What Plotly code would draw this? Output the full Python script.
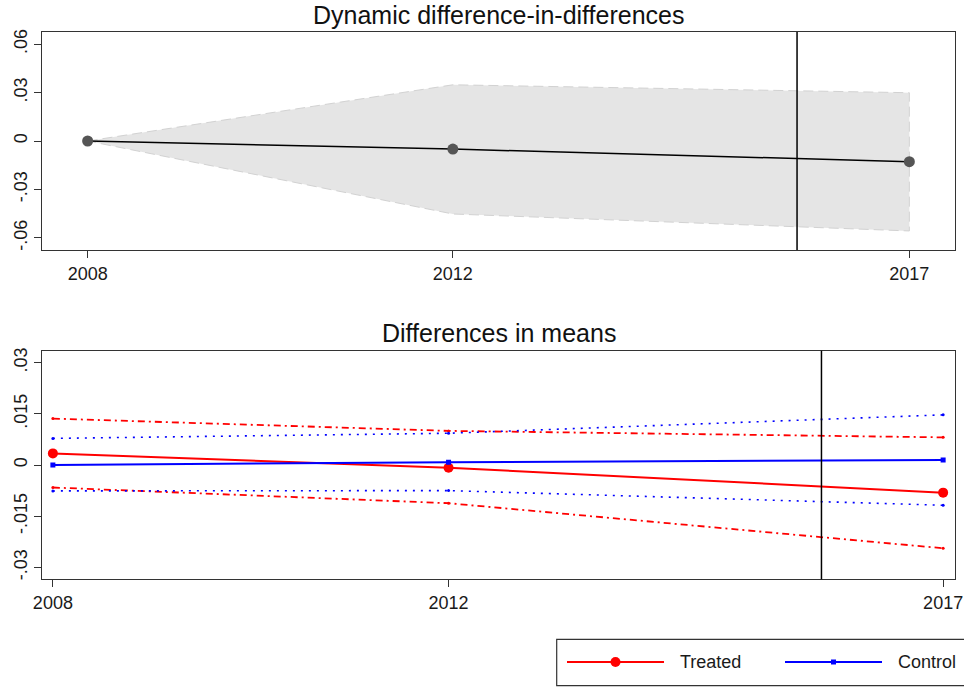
import plotly.graph_objects as go

# x positions (years)
years = [2008, 2012, 2017]
treat_start = 2015.77

# top panel: dynamic DiD estimates with confidence band
did_coef = [0.0, -0.005, -0.0128]
did_upper = [0.0, 0.0348, 0.0299]
did_lower = [0.0, -0.0452, -0.0557]

# bottom panel: group means (differences) with CI
treated = [0.0034, -0.0008, -0.0081]
treated_hi = [0.0136, 0.0100, 0.0081]
treated_lo = [-0.0066, -0.0112, -0.0244]
control = [0.0, 0.0008, 0.0015]
control_hi = [0.0078, 0.0093, 0.0147]
control_lo = [-0.0076, -0.0075, -0.0118]

top_ticks = [-0.06, -0.03, 0, 0.03, 0.06]
top_ticktext = ["-.06", "-.03", "0", ".03", ".06"]
bot_ticks = [-0.03, -0.015, 0, 0.015, 0.03]
bot_ticktext = ["-.03", "-.015", "0", ".015", ".03"]

legend_names = ["Treated", "Control"]
legend_colors = ["red", "blue"]

W, H = 964, 690
FONT = "Liberation Sans, Arial, sans-serif"


def px(x):
    return x / W


def py(y):
    return 1 - y / H


fig = go.Figure()

# confidence band (polygon)
fig.add_trace(
    go.Scatter(
        x=years + years[::-1],
        y=did_upper + did_lower[::-1],
        fill="toself",
        fillcolor="#e5e5e5",
        line=dict(color="#d2d2d2", width=1, dash="10px,5px"),
        mode="lines",
        showlegend=False,
        hoverinfo="skip",
        xaxis="x",
        yaxis="y",
    )
)
fig.add_trace(
    go.Scatter(
        x=years,
        y=did_coef,
        mode="lines+markers",
        line=dict(color="black", width=1.5),
        marker=dict(color="#555555", size=11),
        showlegend=False,
        xaxis="x",
        yaxis="y",
    )
)

# bottom panel CIs
ci_lines = [
    (treated_hi, "red", "7px,4px,2px,4px", 1.8),
    (treated_lo, "red", "7px,4px,2px,4px", 1.8),
    (control_hi, "blue", "2px,6px", 1.6),
    (control_lo, "blue", "2px,6px", 1.6),
]
for vals, col, dash, lw in ci_lines:
    fig.add_trace(
        go.Scatter(
            x=years,
            y=vals,
            mode="lines+markers",
            line=dict(color=col, width=lw, dash=dash),
            marker=dict(color=col, size=3),
            showlegend=False,
            xaxis="x2",
            yaxis="y2",
        )
    )

fig.add_trace(
    go.Scatter(
        x=years,
        y=treated,
        mode="lines+markers",
        name="Treated",
        line=dict(color="red", width=2),
        marker=dict(color="red", size=10),
        showlegend=False,
        xaxis="x2",
        yaxis="y2",
    )
)
fig.add_trace(
    go.Scatter(
        x=years,
        y=control,
        mode="lines+markers",
        name="Control",
        line=dict(color="blue", width=2),
        marker=dict(color="blue", size=5, symbol="square"),
        showlegend=False,
        xaxis="x2",
        yaxis="y2",
    )
)

axis_common = dict(
    showline=True,
    mirror=True,
    linecolor="#333333",
    linewidth=1.2,
    ticks="outside",
    ticklen=7,
    tickcolor="#333333",
    showgrid=False,
    zeroline=False,
    automargin=False,
    tickfont=dict(size=18, color="#1a1a1a"),
)

# legend drawn by hand (Stata-style long samples)
shapes = [
    dict(
        type="line", xref="x", yref="y domain",
        x0=treat_start, x1=treat_start, y0=0, y1=1,
        line=dict(color="black", width=1.5),
    ),
    dict(
        type="line", xref="x2", yref="y2 domain",
        x0=treat_start, x1=treat_start, y0=0, y1=1,
        line=dict(color="black", width=1.5),
    ),
    dict(
        type="rect", xref="paper", yref="paper",
        x0=px(556.7), x1=1.01, y0=py(685.7), y1=py(639.3),
        line=dict(color="#333333", width=1.2),
    ),
]
annotations = [
    dict(
        text="Dynamic difference-in-differences",
        x=px(498.5), y=py(15), xref="paper", yref="paper",
        showarrow=False, font=dict(size=25, color="#111111"),
        xanchor="center", yanchor="middle",
    ),
    dict(
        text="Differences in means",
        x=px(498.5), y=py(333), xref="paper", yref="paper",
        showarrow=False, font=dict(size=25, color="#111111"),
        xanchor="center", yanchor="middle",
    ),
]
leg_y = 662
for i, (name, col) in enumerate(zip(legend_names, legend_colors)):
    x0 = 567 + i * 218
    shapes.append(
        dict(
            type="line", xref="paper", yref="paper",
            x0=px(x0), x1=px(x0 + 97), y0=py(leg_y), y1=py(leg_y),
            line=dict(color=col, width=2),
        )
    )
    cx = x0 + 48.5
    if i == 0:
        r = 5
        shapes.append(
            dict(
                type="circle", xref="paper", yref="paper",
                x0=px(cx - r), x1=px(cx + r), y0=py(leg_y + r), y1=py(leg_y - r),
                fillcolor=col, line=dict(color=col, width=0),
            )
        )
    else:
        r = 2.5
        shapes.append(
            dict(
                type="rect", xref="paper", yref="paper",
                x0=px(cx - r), x1=px(cx + r), y0=py(leg_y + r), y1=py(leg_y - r),
                fillcolor=col, line=dict(color=col, width=0),
            )
        )
    annotations.append(
        dict(
            text=name, x=px(x0 + 111), y=py(leg_y), xref="paper", yref="paper",
            showarrow=False, font=dict(size=18, color="#1a1a1a"),
            xanchor="left", yanchor="middle",
        )
    )

xdom = [px(42), px(955)]
fig.update_layout(
    width=W,
    height=H,
    margin=dict(l=0, r=0, t=0, b=0),
    paper_bgcolor="white",
    plot_bgcolor="white",
    font=dict(family=FONT, color="#1a1a1a"),
    showlegend=False,
    xaxis=dict(
        axis_common,
        domain=xdom,
        range=[2007.5, 2017.5],
        tickvals=years,
        anchor="y",
    ),
    yaxis=dict(
        axis_common,
        domain=[py(250), py(32)],
        range=[-0.0675, 0.0675],
        tickvals=top_ticks,
        ticktext=top_ticktext,
        tickangle=-90,
        anchor="x",
    ),
    xaxis2=dict(
        axis_common,
        domain=xdom,
        range=[2007.89, 2017.12],
        tickvals=years,
        anchor="y2",
    ),
    yaxis2=dict(
        axis_common,
        domain=[py(579.3), py(350.7)],
        range=[-0.0335, 0.0335],
        tickvals=bot_ticks,
        ticktext=bot_ticktext,
        tickangle=-90,
        anchor="x2",
    ),
    annotations=annotations,
    shapes=shapes,
)

# drop the default page margin so the 964x690 figure fills the window
fig.write_html(
    "out.html",
    config={"displayModeBar": False},
    post_script="document.body.style.margin='0';document.body.style.overflow='hidden';",
)
